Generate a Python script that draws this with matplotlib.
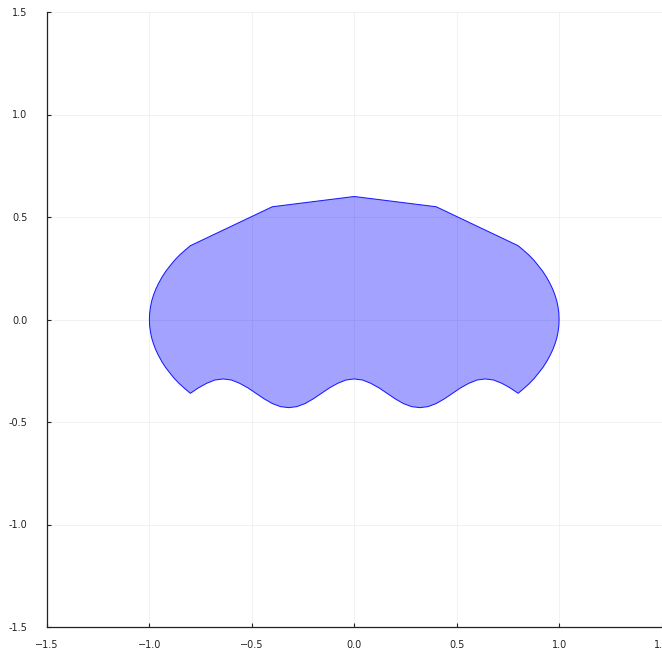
import matplotlib
matplotlib.use("Agg")
import matplotlib.pyplot as plt

# Outline of the region, traced clockwise starting at the upper-left corner.
top_x = [-0.8, -0.4, 0.0, 0.4, 0.8]
top_y = [0.36, 0.55, 0.60, 0.55, 0.36]

right_x = [0.825, 0.853, 0.878, 0.900, 0.921, 0.939, 0.955, 0.969, 0.980,
           0.989, 0.995, 0.999, 1.0,
           0.999, 0.995, 0.989, 0.980, 0.969, 0.955, 0.939, 0.921, 0.900,
           0.878, 0.853, 0.825, 0.8]
right_y = [0.339, 0.314, 0.288, 0.261, 0.234, 0.206, 0.177, 0.148, 0.119,
           0.090, 0.060, 0.030, 0.0,
           -0.030, -0.060, -0.090, -0.119, -0.148, -0.177, -0.206, -0.234,
           -0.261, -0.288, -0.314, -0.339, -0.36]

bottom_x = [0.76, 0.72, 0.68, 0.64, 0.60, 0.56, 0.52, 0.48, 0.44, 0.40,
            0.36, 0.32, 0.28, 0.24, 0.20, 0.16, 0.12, 0.08, 0.04, 0.0,
            -0.04, -0.08, -0.12, -0.16, -0.20, -0.24, -0.28, -0.32, -0.36,
            -0.40, -0.44, -0.48, -0.52, -0.56, -0.60, -0.64, -0.68, -0.72,
            -0.76, -0.8]
bottom_y = [-0.333, -0.311, -0.295, -0.290, -0.295, -0.311, -0.333, -0.360,
            -0.387, -0.410, -0.425, -0.430, -0.425, -0.410, -0.387, -0.360,
            -0.333, -0.311, -0.295, -0.290, -0.295, -0.311, -0.333, -0.360,
            -0.387, -0.410, -0.425, -0.430, -0.425, -0.410, -0.387, -0.360,
            -0.333, -0.311, -0.295, -0.290, -0.295, -0.311, -0.333, -0.360]

left_x = [-0.825, -0.853, -0.878, -0.900, -0.921, -0.939, -0.955, -0.969,
          -0.980, -0.989, -0.995, -0.999, -1.0,
          -0.999, -0.995, -0.989, -0.980, -0.969, -0.955, -0.939, -0.921,
          -0.900, -0.878, -0.853, -0.825, -0.8]
left_y = [-0.339, -0.314, -0.288, -0.261, -0.234, -0.206, -0.177, -0.148,
          -0.119, -0.090, -0.060, -0.030, 0.0,
          0.030, 0.060, 0.090, 0.119, 0.148, 0.177, 0.206, 0.234, 0.261,
          0.288, 0.314, 0.339, 0.36]

ticks = [-1.5, -1.0, -0.5, 0.0, 0.5, 1.0, 1.5]
x_ticklabels = ["\u22121.5", "\u22121.0", "\u22120.5", "0.0", "0.5", "1.0", "1.5"]
y_ticklabels = ["-1.5", "-1.0", "-0.5", "0.0", "0.5", "1.0", "1.5"]

xs = top_x + right_x + bottom_x + left_x
ys = top_y + right_y + bottom_y + left_y

fig = plt.figure(figsize=(6.62, 6.49), dpi=100)
ax = fig.add_axes([47 / 662, 22 / 649, 614.5 / 662, 615 / 649])

ax.fill(xs, ys, facecolor=(0, 0, 1, 0.36), edgecolor="#1a1aff", linewidth=0.75)

ax.set_xlim(-1.5, 1.5)
ax.set_ylim(-1.5, 1.5)
ax.set_xticks(ticks)
ax.set_xticklabels(x_ticklabels)
ax.set_yticks(ticks)
ax.set_yticklabels(y_ticklabels)

ax.grid(True, color="#f0f0f0", linewidth=0.6)
ax.set_axisbelow(True)
for side in ("top", "right"):
    ax.spines[side].set_visible(False)
for side in ("left", "bottom"):
    ax.spines[side].set_color("#222222")
    ax.spines[side].set_linewidth(0.9)

ax.tick_params(axis="both", direction="in", length=3, width=0.8,
               labelsize=7, colors="#222222")
ax.tick_params(axis="y", pad=14)
ax.tick_params(axis="x", pad=9)

fig.savefig("out.png", dpi=100)
